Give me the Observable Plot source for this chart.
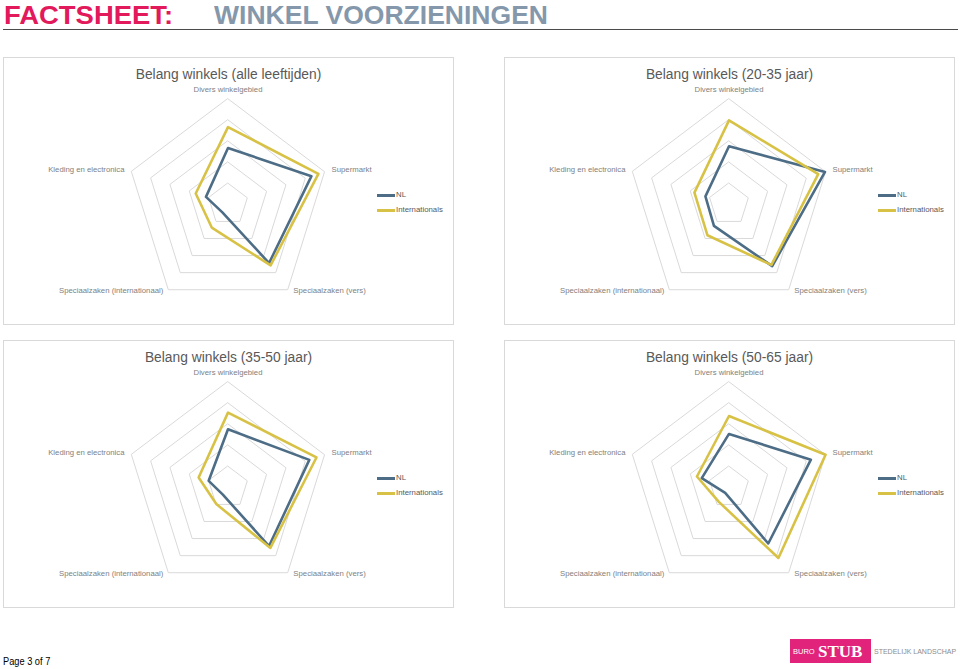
<!DOCTYPE html>
<html><head><meta charset="utf-8">
<script src="https://cdn.jsdelivr.net/npm/d3@7"></script>
<script src="https://cdn.jsdelivr.net/npm/@observablehq/plot@0.6"></script>
<style>
body{margin:0;background:#fff;font-family:"Liberation Sans",Arial,sans-serif;}
#page{position:relative;width:960px;height:669px;overflow:hidden;background:#fff}
.abs{position:absolute;white-space:nowrap;line-height:1}
.panel{position:absolute;width:451px;height:268px;box-sizing:border-box;border:1px solid #d9d9d9;background:#fff}
.panel svg{position:absolute;left:-1px;top:-1px;overflow:visible}
.ptitle{position:absolute;left:-1px;width:451px;text-align:center;top:9.6px;font-size:13.8px;color:#595959;line-height:1}
.leg{position:absolute;font-size:7.8px;color:#595959;line-height:1}
.leg span.ln{position:absolute;width:18.5px;height:2.6px;left:0}
.leg span.tx{position:absolute;left:19.5px;top:-3.3px;white-space:nowrap}
</style></head><body><div id="page"></div>
<script>
// ---- data ----
const categories = ["Divers winkelgebied","Supermarkt","Speciaalzaken (vers)","Speciaalzaken (internationaal)","Kleding en electronica"];
const seriesNames = ["NL","Internationals"];
const seriesColors = ["#4d6d86","#d8c246"];
const ringLevels = [1,2,3,4,5];
const chartTitles = ["Belang winkels (alle leeftijden)","Belang winkels (20-35 jaar)","Belang winkels (35-50 jaar)","Belang winkels (50-65 jaar)"];
const nlAll    = [2.67, 4.32, 3.44, 0.47, 1.14];
const intlAll  = [3.66, 4.68, 3.57, 1.36, 1.67];
const nl2035   = [2.75, 4.97, 3.62, 1.26, 1.22];
const intl2035 = [3.98, 4.62, 3.55, 1.81, 1.79];
const nl3550   = [2.75, 4.21, 3.44, 0.43, 1.00];
const intl3550 = [3.54, 4.58, 3.55, 0.98, 1.52];
const nl5065   = [2.53, 4.24, 3.29, 0.32, 1.41];
const intl5065 = [3.38, 5.00, 4.14, 0.85, 1.66];
const pageTitle1 = "FACTSHEET:";
const pageTitle2 = "WINKEL VOORZIENINGEN";
const pageNote = "Page 3 of 7";

// ---- layout ----
const page = document.getElementById("page");
function add(html){ const d=document.createElement("div"); d.innerHTML=html; const el=d.firstElementChild; page.appendChild(el); return el; }
add(`<div class="abs" style="left:3.6px;top:1.7px;font-size:26px;font-weight:bold;color:#e2195b;transform:scaleX(1.055);transform-origin:left top">${pageTitle1}</div>`);
add(`<div class="abs" style="left:214px;top:1.7px;font-size:26px;font-weight:bold;color:#8598ab;transform:scaleX(1.02);transform-origin:left top">${pageTitle2}</div>`);
add(`<div class="abs" style="left:3px;top:28.5px;width:955px;height:1.6px;background:#4a4a4a"></div>`);
add(`<div class="abs" style="left:3px;top:656px;font-size:11px;color:#000;transform:scaleX(0.84);transform-origin:left top">${pageNote}</div>`);
add(`<div class="abs" style="left:790px;top:639px;width:81px;height:24px;background:#e2237b"></div>`);
add(`<div class="abs" style="left:793px;top:647.5px;font-size:7.5px;color:#fff">BURO</div>`);
add(`<div class="abs" style="left:818px;top:643px;font-size:17px;font-weight:bold;color:#fff;font-family:'Liberation Serif',serif">STUB</div>`);
add(`<div class="abs" style="left:874px;top:648px;font-size:7px;color:#8c8c8c">STEDELIJK LANDSCHAP</div>`);

const W = 451, H = 268, CX = 225.5, CY = 147.5, KX = 20.4, KY = 21.2;
const maxLevel = d3.max(ringLevels);
function pt(i, r){ const a = i*2*Math.PI/categories.length; return {x: r*Math.sin(a), y: r*Math.cos(a)}; }
const labelSpec = [
  {anchor:"middle", dx:0, dy:-9},
  {anchor:"start", dx:7, dy:-2},
  {anchor:"start", dx:5.7, dy:0.5},
  {anchor:"end", dx:-5, dy:0.5},
  {anchor:"end", dx:-7, dy:-2}
];

function radar(nl, intl){
  const rings = ringLevels.flatMap(l => categories.map((c,i)=>({level:l, ...pt(i,l)})));
  const series = [{name:seriesNames[0], values:nl},{name:seriesNames[1], values:intl}];
  const pts = series.flatMap(s => s.values.map((v,i)=>({series:s.name, category:categories[i], ...pt(i,v)})));
  const labels = categories.map((c,i)=>({label:c, i, ...pt(i, maxLevel)}));
  return Plot.plot({
    width: W, height: H, margin: 0,
    style: {background:"transparent", fontFamily:"'Liberation Sans',Arial,sans-serif", overflow:"visible"},
    x: {domain:[-CX/KX, (W-CX)/KX], axis:null},
    y: {domain:[-(H-CY)/KY, CY/KY], axis:null},
    color: {domain:seriesNames, range:seriesColors},
    marks: [
      Plot.line(rings, {x:"x", y:"y", z:"level", curve:"linear-closed", stroke:"#d9d9d9", strokeWidth:1}),
      Plot.line(pts, {x:"x", y:"y", z:"series", stroke:"series", curve:"linear-closed", strokeWidth:2.6, strokeLinejoin:"round"}),
      ...labelSpec.map((s,i)=>Plot.text([labels[i]], {x:"x", y:"y", text:"label", textAnchor:s.anchor, dx:s.dx, dy:s.dy, fontSize:7.8, fill:"#7f7f7f"}))
    ]
  });
}

const panels = [
  {left:3, top:57, title:chartTitles[0], nl:nlAll, intl:intlAll},
  {left:504, top:57, title:chartTitles[1], nl:nl2035, intl:intl2035},
  {left:3, top:340, title:chartTitles[2], nl:nl3550, intl:intl3550},
  {left:504, top:340, title:chartTitles[3], nl:nl5065, intl:intl5065}
];
for (const p of panels){
  const div = add(`<div class="panel" style="left:${p.left}px;top:${p.top}px"></div>`);
  div.appendChild(radar(p.nl, p.intl));
  const t = document.createElement("div"); t.className="ptitle"; t.textContent=p.title; div.appendChild(t);
  seriesNames.forEach((n,k)=>{
    const lg = document.createElement("div"); lg.className="leg";
    lg.style.left = (373.5-1)+"px"; lg.style.top = (137.4 + k*14.6 - 1)+"px";
    lg.innerHTML = `<span class="ln" style="background:${seriesColors[k]}"></span><span class="tx">${n}</span>`;
    div.appendChild(lg);
  });
}
</script></body></html>
